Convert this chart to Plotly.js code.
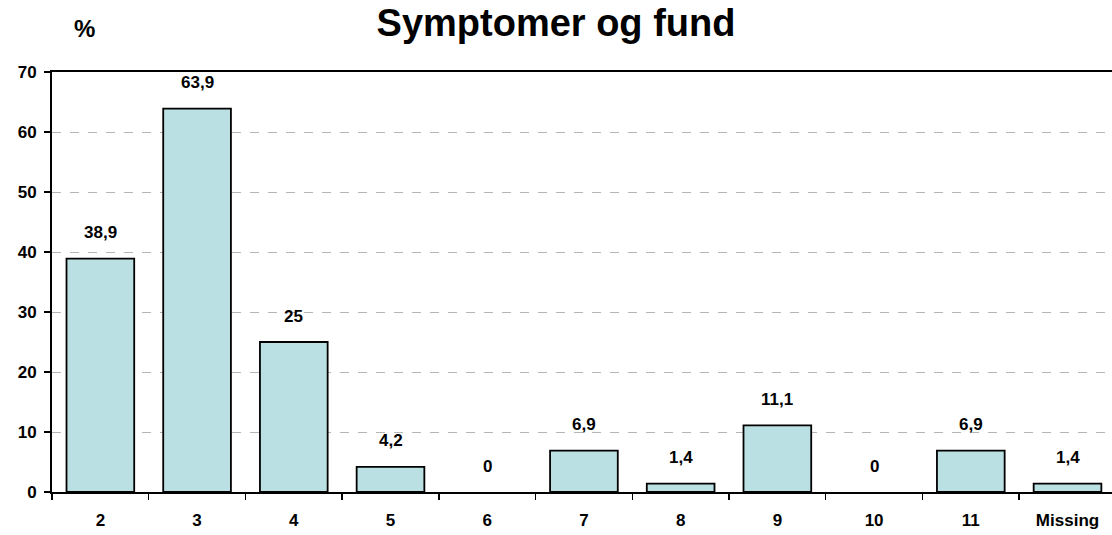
<!DOCTYPE html>
<html><head><meta charset="utf-8">
<script src="https://cdn.plot.ly/plotly-3.0.1.min.js"></script>
<style>body{margin:0;background:#fff}#c{width:1112px;height:535px}</style>
</head><body><div id="c"></div>
<script>
const categories = ["2","3","4","5","6","7","8","9","10","11","Missing"];
const values = [38.9, 63.9, 25, 4.2, 0, 6.9, 1.4, 11.1, 0, 6.9, 1.4];
const labels = ["38,9","63,9","25","4,2","0","6,9","1,4","11,1","0","6,9","1,4"];
const yTicks = [0,10,20,30,40,50,60,70];

const F = "Liberation Sans, Arial, sans-serif";
const trace = {
  type: "bar", x: categories, y: values.map(v => v === 0 ? null : v), width: 0.7,
  marker: {color: "#bbe0e3", line: {color: "#000", width: 1.8}},
  hoverinfo: "skip"
};
const annotations = categories.map((c, i) => ({
  x: i, y: values[i], text: "<b>" + labels[i] + "</b>", showarrow: false,
  xref: "x", yref: "y", yanchor: "middle", yshift: 26,
  font: {family: F, size: 17, color: "#000"}
}));
annotations.push({text: "<b>%</b>", xref: "paper", yref: "paper", x: 0.031, y: 1.0,
  yshift: 44, showarrow: false, xanchor: "center", yanchor: "middle",
  font: {family: F, size: 24, color: "#000"}});
const layout = {
  width: 1112, height: 535,
  margin: {l: 52, r: 0, t: 72, b: 43},
  paper_bgcolor: "#fff", plot_bgcolor: "#fff",
  showlegend: false,
  title: {text: "<b>Symptomer og fund</b>", x: 0.5, xanchor: "center", y: 0.958, yanchor: "middle",
    font: {family: F, size: 38, color: "#000"}},
  xaxis: {type: "category", range: [-0.5, 10.46], showline: true, linecolor: "#000", linewidth: 2,
    mirror: true, ticks: "outside", tickson: "boundaries", ticklen: 6, tickwidth: 1.5, tickcolor: "#000",
    showgrid: false, ticklabelstandoff: 12,
    tickfont: {family: F, size: 17, color: "#000", weight: "bold"}},
  yaxis: {range: [0, 70], tickvals: yTicks, ticktext: yTicks.map(String),
    showline: true, linecolor: "#000", linewidth: 2, ticks: "outside", ticklen: 6, tickwidth: 1.5, tickcolor: "#000",
    showgrid: true, gridcolor: "#b5b5b5", griddash: "dash", gridwidth: 1, zeroline: false,
    ticklabelstandoff: 4,
    tickfont: {family: F, size: 17, color: "#000", weight: "bold"}},
  annotations: annotations
};
Plotly.newPlot("c", [trace], layout, {displayModeBar: false, staticPlot: true});
</script></body></html>
